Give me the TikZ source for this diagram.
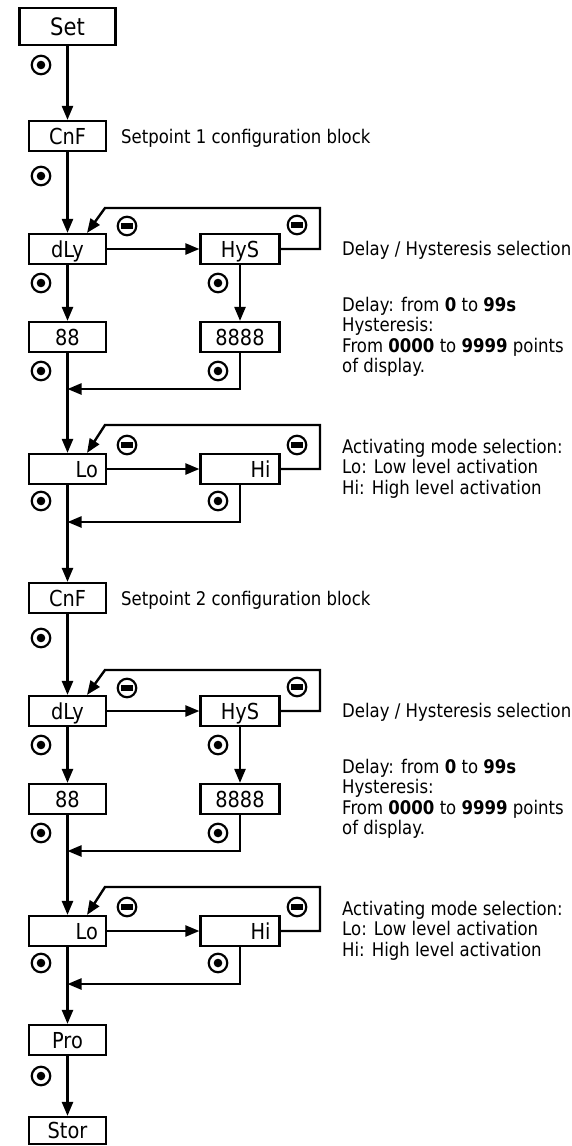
\documentclass[tikz,border=0pt]{standalone}
\usepackage{fontspec}
\setmainfont{DejaVu Sans}[FakeStretch=0.88]
\usetikzlibrary{arrows.meta}
\begin{document}
\begin{tikzpicture}[x=1pt,y=-1pt,
  box/.style={draw,line width=2.2pt,minimum width=77pt,minimum height=30pt,inner sep=0pt,
    font=\fontsize{22}{25}\selectfont,text height=16pt,text depth=0pt},
  rbox/.style={box,text width=61pt,align=right},
  conn/.style={line width=2.4pt},
  arr/.style={conn,-{Triangle[length=14pt,width=11pt]}},
  side/.style={anchor=base west,inner sep=0pt,font=\fontsize{18.8}{22}\selectfont},
  radio/.style={circle,draw,line width=2.2pt,minimum size=18.5pt,inner sep=0pt,
    path picture={\fill (path picture bounding box.center) circle (4.3pt);}},
  minus/.style={circle,draw,line width=2.2pt,minimum size=18.5pt,inner sep=0pt,
    path picture={\fill ([xshift=-5.8pt,yshift=-2.7pt]path picture bounding box.center) rectangle ([xshift=5.8pt,yshift=2.7pt]path picture bounding box.center);}},
]
\useasboundingbox (0,0) rectangle (572,1146);

\node[box,minimum width=96pt,minimum height=37pt,font=\fontsize{24}{27}\selectfont,text height=17.5pt] (set) at (67.5,26.5) {Set};
\node[radio] (r0) at (41,65) {};

\foreach \b/\o in {1/0,2/462}{
  \node[box] (cnf\b) at (67.5,136+\o) {CnF};
  \node[side] (sp\b) at (121,143.3+\o) {Setpoint \b\ configuration block};
  \node[radio] (rc\b) at (41,176+\o) {};
  \node[box] (dly\b) at (67.5,249+\o) {dLy};
  \node[box,minimum width=79pt] (hys\b) at (240,249+\o) {HyS};
  \node[minus] (ma\b) at (127,226+\o) {};
  \node[minus] (mb\b) at (297,225+\o) {};
  \node[radio] (rd\b) at (41,283+\o) {};
  \node[radio] (rh\b) at (218,283+\o) {};
  \node[box] (da\b) at (67.5,337+\o) {88};
  \node[box,minimum width=79pt] (hb\b) at (240,337+\o) {8888};
  \node[radio] (re\b) at (41,371+\o) {};
  \node[radio] (rf\b) at (218,371+\o) {};
  \node[rbox] (lo\b) at (67.5,469+\o) {Lo};
  \node[rbox,minimum width=79pt] (hi\b) at (240,469+\o) {Hi};
  \node[minus] (mc\b) at (127,445+\o) {};
  \node[minus] (md\b) at (297,445+\o) {};
  \node[radio] (rg\b) at (41,501+\o) {};
  \node[radio] (rk\b) at (218,501+\o) {};
  \node[side] (ta\b) at (342,255+\o) {Delay / Hysteresis selection};
  \node[side] (tb\b) at (342,311+\o) {Delay: from \textbf{0} to \textbf{99s}};
  \node[side] (tc\b) at (342,331.5+\o) {Hysteresis:};
  \node[side] (td\b) at (342,352+\o) {From \textbf{0000} to \textbf{9999} points};
  \node[side] (te\b) at (342,372+\o) {of display.};
  \node[side] (tf\b) at (342,453+\o) {Activating mode selection:};
  \node[side] (tg\b) at (342,473.5+\o) {Lo: Low level activation};
  \node[side] (th\b) at (342,494+\o) {Hi: High level activation};
  \coordinate (ta1\b) at (320,208+\o);
  \coordinate (tb1\b) at (105,208+\o);
  \coordinate (ta2\b) at (320,425+\o);
  \coordinate (tb2\b) at (105,425+\o);
  \coordinate (j1\b) at (67.5,389+\o);
  \coordinate (j2\b) at (67.5,522+\o);
  \draw[arr] (cnf\b) -- (dly\b);
  \draw[arr] (dly\b) -- (hys\b);
  \draw[arr] (hys\b.east) -| (ta1\b) -- (tb1\b) -- ([xshift=19.5pt]dly\b.north);
  \draw[arr] (dly\b) -- (da\b);
  \draw[arr] (hys\b) -- (hb\b);
  \draw[arr] (hb\b.south) |- (j1\b);
  \draw[arr] (da\b) -- (lo\b);
  \draw[arr] (lo\b) -- (hi\b);
  \draw[arr] (hi\b.east) -| (ta2\b) -- (tb2\b) -- ([xshift=19.5pt]lo\b.north);
  \draw[arr] (hi\b.south) |- (j2\b);
}

\node[box] (pro) at (67.5,1040) {Pro};
\node[radio] (rp) at (41,1076) {};
\node[box,minimum height=27pt] (stor) at (67.5,1130.5) {Stor};

\draw[arr] (set) -- (cnf1);
\draw[arr] (lo1) -- (cnf2);
\draw[arr] (lo2) -- (pro);
\draw[arr] (pro) -- (stor);
\end{tikzpicture}
\end{document}
